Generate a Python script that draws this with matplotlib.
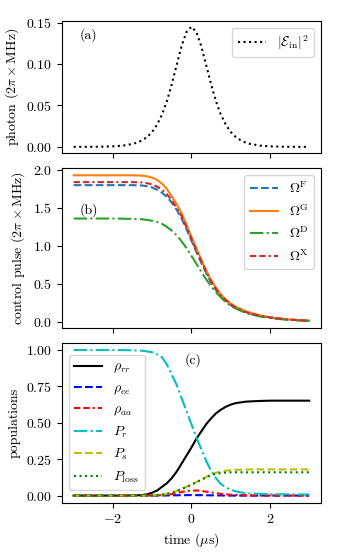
import matplotlib
matplotlib.use("Agg")
import matplotlib.pyplot as plt
from matplotlib.ticker import MultipleLocator

plt.rcParams['font.family'] = 'serif'
plt.rcParams['font.serif'] = ['cmr10']
plt.rcParams['mathtext.fontset'] = 'cm'
plt.rcParams['axes.formatter.use_mathtext'] = True
plt.rcParams['font.size'] = 10

# time axis (us)
t = [-3.0, -2.75, -2.5, -2.25, -2.0, -1.75,
     -1.5, -1.375, -1.25, -1.125, -1.0, -0.875, -0.75, -0.625, -0.5, -0.375, -0.25, -0.125,
     0.0, 0.125, 0.25, 0.375, 0.5, 0.625, 0.75, 0.875, 1.0, 1.125, 1.25, 1.375, 1.5,
     1.75, 2.0, 2.25, 2.5, 2.75, 3.0]

# (a) photon
photon = [0.00002, 0.00005, 0.00012, 0.0003, 0.00065, 0.0015,
          0.0035, 0.0053, 0.0081, 0.0121, 0.0181, 0.0268, 0.0389, 0.0550, 0.0758, 0.0990, 0.1217, 0.1387,
          0.145, 0.1387, 0.1217, 0.0990, 0.0758, 0.0550, 0.0389, 0.0268, 0.0181, 0.0121, 0.0081, 0.0053, 0.0035,
          0.0015, 0.00065, 0.0003, 0.00012, 0.00005, 0.00002]

# (b) control pulses
omega_F = [1.80, 1.80, 1.80, 1.80, 1.80, 1.80,
           1.80, 1.798, 1.795, 1.785, 1.77, 1.74, 1.70, 1.645, 1.57, 1.475, 1.36, 1.22,
           1.07, 0.92, 0.78, 0.645, 0.52, 0.42, 0.34, 0.275, 0.22, 0.18, 0.15, 0.125, 0.105,
           0.075, 0.055, 0.04, 0.028, 0.02, 0.013]
omega_G = [1.93, 1.93, 1.93, 1.93, 1.93, 1.93,
           1.93, 1.928, 1.925, 1.915, 1.90, 1.87, 1.82, 1.75, 1.65, 1.55, 1.43, 1.28,
           1.12, 0.97, 0.82, 0.68, 0.55, 0.45, 0.36, 0.295, 0.24, 0.20, 0.17, 0.14, 0.12,
           0.085, 0.06, 0.045, 0.03, 0.022, 0.015]
omega_D = [1.36, 1.36, 1.36, 1.36, 1.36, 1.358,
           1.355, 1.353, 1.35, 1.342, 1.33, 1.315, 1.29, 1.25, 1.20, 1.14, 1.06, 0.97,
           0.87, 0.765, 0.66, 0.56, 0.47, 0.39, 0.32, 0.26, 0.21, 0.175, 0.15, 0.12, 0.10,
           0.07, 0.05, 0.035, 0.025, 0.017, 0.012]
omega_X = [1.84, 1.84, 1.84, 1.84, 1.84, 1.84,
           1.84, 1.838, 1.835, 1.825, 1.81, 1.78, 1.74, 1.68, 1.60, 1.50, 1.39, 1.245,
           1.09, 0.94, 0.80, 0.66, 0.53, 0.43, 0.35, 0.285, 0.23, 0.19, 0.16, 0.13, 0.11,
           0.08, 0.057, 0.042, 0.03, 0.021, 0.014]

# (c) populations
rho_rr = [0.0, 0.0, 0.0, 0.0, 0.0, 0.0,
          0.001, 0.002, 0.004, 0.009, 0.02, 0.035, 0.06, 0.085, 0.12, 0.165, 0.22, 0.275,
          0.33, 0.39, 0.44, 0.49, 0.53, 0.565, 0.59, 0.61, 0.625, 0.635, 0.64, 0.645, 0.647,
          0.65, 0.652, 0.652, 0.652, 0.652, 0.652]
rho_ee = [0.0, 0.0, 0.0, 0.0, 0.0, 0.0,
          0.0, 0.0, 0.0, 0.0, 0.0, 0.0, 0.001, 0.001, 0.002, 0.002, 0.003, 0.003,
          0.004, 0.003, 0.003, 0.002, 0.002, 0.001, 0.001, 0.0, 0.0, 0.0, 0.0, 0.0, 0.0,
          0.0, 0.0, 0.0, 0.0, 0.0, 0.0]
rho_aa = [0.0, 0.0, 0.0, 0.0, 0.0, 0.0,
          0.0, 0.0, 0.0, 0.0, 0.001, 0.002, 0.003, 0.006, 0.01, 0.017, 0.025, 0.031,
          0.034, 0.035, 0.032, 0.027, 0.022, 0.017, 0.012, 0.009, 0.006, 0.004, 0.003, 0.002, 0.001,
          0.0, 0.0, 0.0, 0.0, 0.0, 0.0]
P_r = [1.0, 1.0, 1.0, 1.0, 1.0, 0.999,
       0.998, 0.997, 0.995, 0.99, 0.985, 0.97, 0.95, 0.90, 0.83, 0.76, 0.67, 0.58,
       0.49, 0.40, 0.32, 0.24, 0.17, 0.12, 0.08, 0.057, 0.04, 0.03, 0.022, 0.018, 0.015,
       0.012, 0.01, 0.009, 0.009, 0.008, 0.008]
P_s = [0.0, 0.0, 0.0, 0.0, 0.0, 0.0,
       0.0, 0.0, 0.0, 0.0005, 0.001, 0.003, 0.006, 0.012, 0.02, 0.032, 0.045, 0.06,
       0.075, 0.093, 0.11, 0.128, 0.145, 0.157, 0.165, 0.171, 0.175, 0.177, 0.178, 0.179, 0.18,
       0.18, 0.18, 0.18, 0.18, 0.18, 0.18]
P_loss = [0.0, 0.0, 0.0, 0.0, 0.0, 0.0,
          0.0, 0.0, 0.0, 0.0005, 0.001, 0.003, 0.006, 0.012, 0.02, 0.032, 0.045, 0.06,
          0.075, 0.092, 0.107, 0.125, 0.14, 0.15, 0.155, 0.158, 0.16, 0.16, 0.16, 0.16, 0.16,
          0.16, 0.16, 0.16, 0.16, 0.16, 0.16]

fig = plt.figure(figsize=(3.4, 5.6), dpi=100)
left, width = 0.182, 0.762
ax1 = fig.add_axes([left, 0.727, width, 0.236])
ax2 = fig.add_axes([left, 0.414, width, 0.286], sharex=ax1)
ax3 = fig.add_axes([left, 0.102, width, 0.286], sharex=ax1)

ax1.plot(t, photon, 'k:', lw=1.5, label=r'$|\mathcal{E}_{\rm in}|^2$')
ax1.set_ylabel(r'photon $(2\pi\times$MHz$)$')
ax1.set_yticks([0.0, 0.05, 0.10, 0.15])
ax1.legend(loc='upper right')
ax1.text(0.07, 0.89, '(a)', transform=ax1.transAxes, va='center')
ax1.tick_params(labelbottom=False)

ax2.plot(t, omega_F, '--', color='C0', lw=1.5, label=r'$\Omega^{\rm F}$')
ax2.plot(t, omega_G, '-', color='C1', lw=1.5, label=r'$\Omega^{\rm G}$')
ax2.plot(t, omega_D, '-.', color='C2', lw=1.5, label=r'$\Omega^{\rm D}$')
ax2.plot(t, omega_X, color='C3', lw=1.5, dashes=(3, 1.5, 3, 1.5, 1, 1.5), label=r'$\Omega^{\rm X}$')
ax2.set_ylabel(r'control pulse $(2\pi\times$MHz$)$')
ax2.yaxis.set_major_locator(MultipleLocator(0.5))
ax2.legend(loc='upper right')
ax2.text(0.07, 0.74, '(b)', transform=ax2.transAxes, va='center')
ax2.tick_params(labelbottom=False)

ax3.plot(t, rho_rr, 'k-', lw=1.5, label=r'$\rho_{rr}$')
ax3.plot(t, rho_ee, 'b--', lw=1.5, label=r'$\rho_{ee}$')
ax3.plot(t, rho_aa, color='r', lw=1.5, dashes=(3, 1.5, 3, 1.5, 1, 1.5), label=r'$\rho_{aa}$')
ax3.plot(t, P_r, 'c-.', lw=1.5, label=r'$P_r$')
ax3.plot(t, P_s, 'y--', lw=1.5, label=r'$P_s$')
ax3.plot(t, P_loss, 'g:', lw=1.5, label=r'$P_{\rm loss}$')
ax3.set_ylabel('populations')
ax3.set_xlabel(r'time $(\mu$s$)$')
ax3.yaxis.set_major_locator(MultipleLocator(0.25))
ax3.set_xticks([-2, 0, 2])
ax3.legend(loc='center left')
ax3.text(0.475, 0.89, '(c)', transform=ax3.transAxes, va='center')

fig.savefig('out.png', dpi=100)
